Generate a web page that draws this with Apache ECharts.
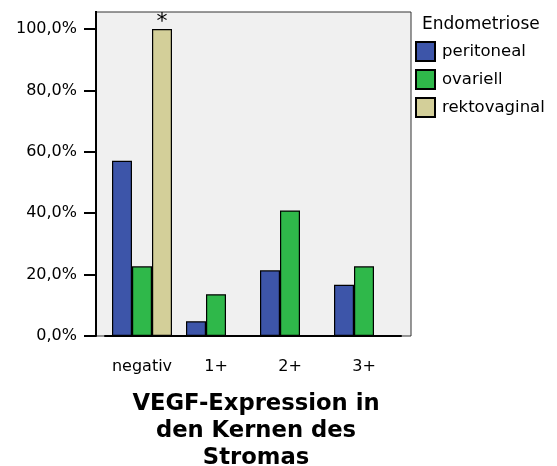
<!DOCTYPE html>
<html><head><meta charset="utf-8">
<script src="https://cdn.jsdelivr.net/npm/echarts@6/dist/echarts.min.js"></script>
<style>html,body{margin:0;padding:0;background:#fff}#c{width:557px;height:466px}</style>
</head><body><div id="c"></div>
<script>
const categories = ['negativ', '1+', '2+', '3+'];
const peritoneal = [57.1, 4.8, 21.4, 16.7];
const ovariell = [22.7, 13.6, 40.9, 22.7];
const rektovaginal = [100, 0, 0, 0];
const yTicks = [0, 20, 40, 60, 80, 100];
const seriesNames = ['peritoneal', 'ovariell', 'rektovaginal'];
const legendTitle = 'Endometriose';
const axisTitle = 'VEGF-Expression in\nden Kernen des\nStromas';

const FONT = 'DejaVu Sans';
const chart = echarts.init(document.getElementById('c'), null, {renderer: 'canvas'});
const colors = ['#3d55a9', '#2fb84a', '#d3cf99'];
const mk = (name, data, i) => ({
  name, type: 'bar', data: data.map((v, k) => {
    const it = {value: v};
    if (i === 2 && v === 100) it.label = {show: true, position: 'top', formatter: '*', fontSize: 22, color: '#000', fontFamily: FONT, distance: -4};
    return it;
  }),
  barWidth: 20, barGap: '0%',
  itemStyle: {color: colors[i], borderColor: '#000', borderWidth: 1.2},
  z: 3
});
chart.setOption({
  animation: false,
  textStyle: {fontFamily: FONT},
  title: {text: axisTitle, left: 251, top: 386, textAlign: 'center',
    textStyle: {fontFamily: FONT, fontWeight: 'bold', fontSize: 22.7, lineHeight: 27, color: '#000'}},
  graphic: [
    {type: 'rect', shape: {x: 96, y: 12, width: 315, height: 324}, style: {fill: '#f0f0f0', stroke: '#333', lineWidth: 1}, z: -10},
    {type: 'line', shape: {x1: 96, y1: 11, x2: 96, y2: 30}, style: {stroke: '#000', lineWidth: 2}, z: 10},
    {type: 'text', left: 422, top: 16, style: {text: legendTitle, fontFamily: FONT, fontSize: 17, fill: '#000'}}
  ],
  legend: {orient: 'vertical', left: 415, top: 41, padding: 0, itemWidth: 19, itemHeight: 19, itemGap: 7,
    icon: 'rect', data: seriesNames, textStyle: {fontFamily: FONT, fontSize: 16.5, color: '#000', padding: [0, 0, 0, 2]}},
  grid: {left: 105, right: 156, top: 29, bottom: 130},
  xAxis: {type: 'category', data: categories,
    axisLine: {lineStyle: {color: '#000', width: 2}},
    axisTick: {alignWithLabel: true, length: 11, lineStyle: {color: '#000', width: 2}},
    axisLabel: {interval: 0, fontFamily: FONT, fontSize: 16, color: '#000', margin: 23}},
  yAxis: {type: 'value', min: 0, max: 100, interval: 20, offset: 9,
    axisLine: {show: true, lineStyle: {color: '#000', width: 2}},
    axisTick: {show: true, length: 12, lineStyle: {color: '#000', width: 2}},
    splitLine: {show: false},
    axisLabel: {fontFamily: FONT, fontSize: 16, color: '#000', margin: 19,
      formatter: v => yTicks.includes(v) ? v.toFixed(1).replace('.', ',') + '%' : ''}},
  series: [mk(seriesNames[0], peritoneal, 0), mk(seriesNames[1], ovariell, 1), mk(seriesNames[2], rektovaginal, 2)]
});
</script></body></html>
